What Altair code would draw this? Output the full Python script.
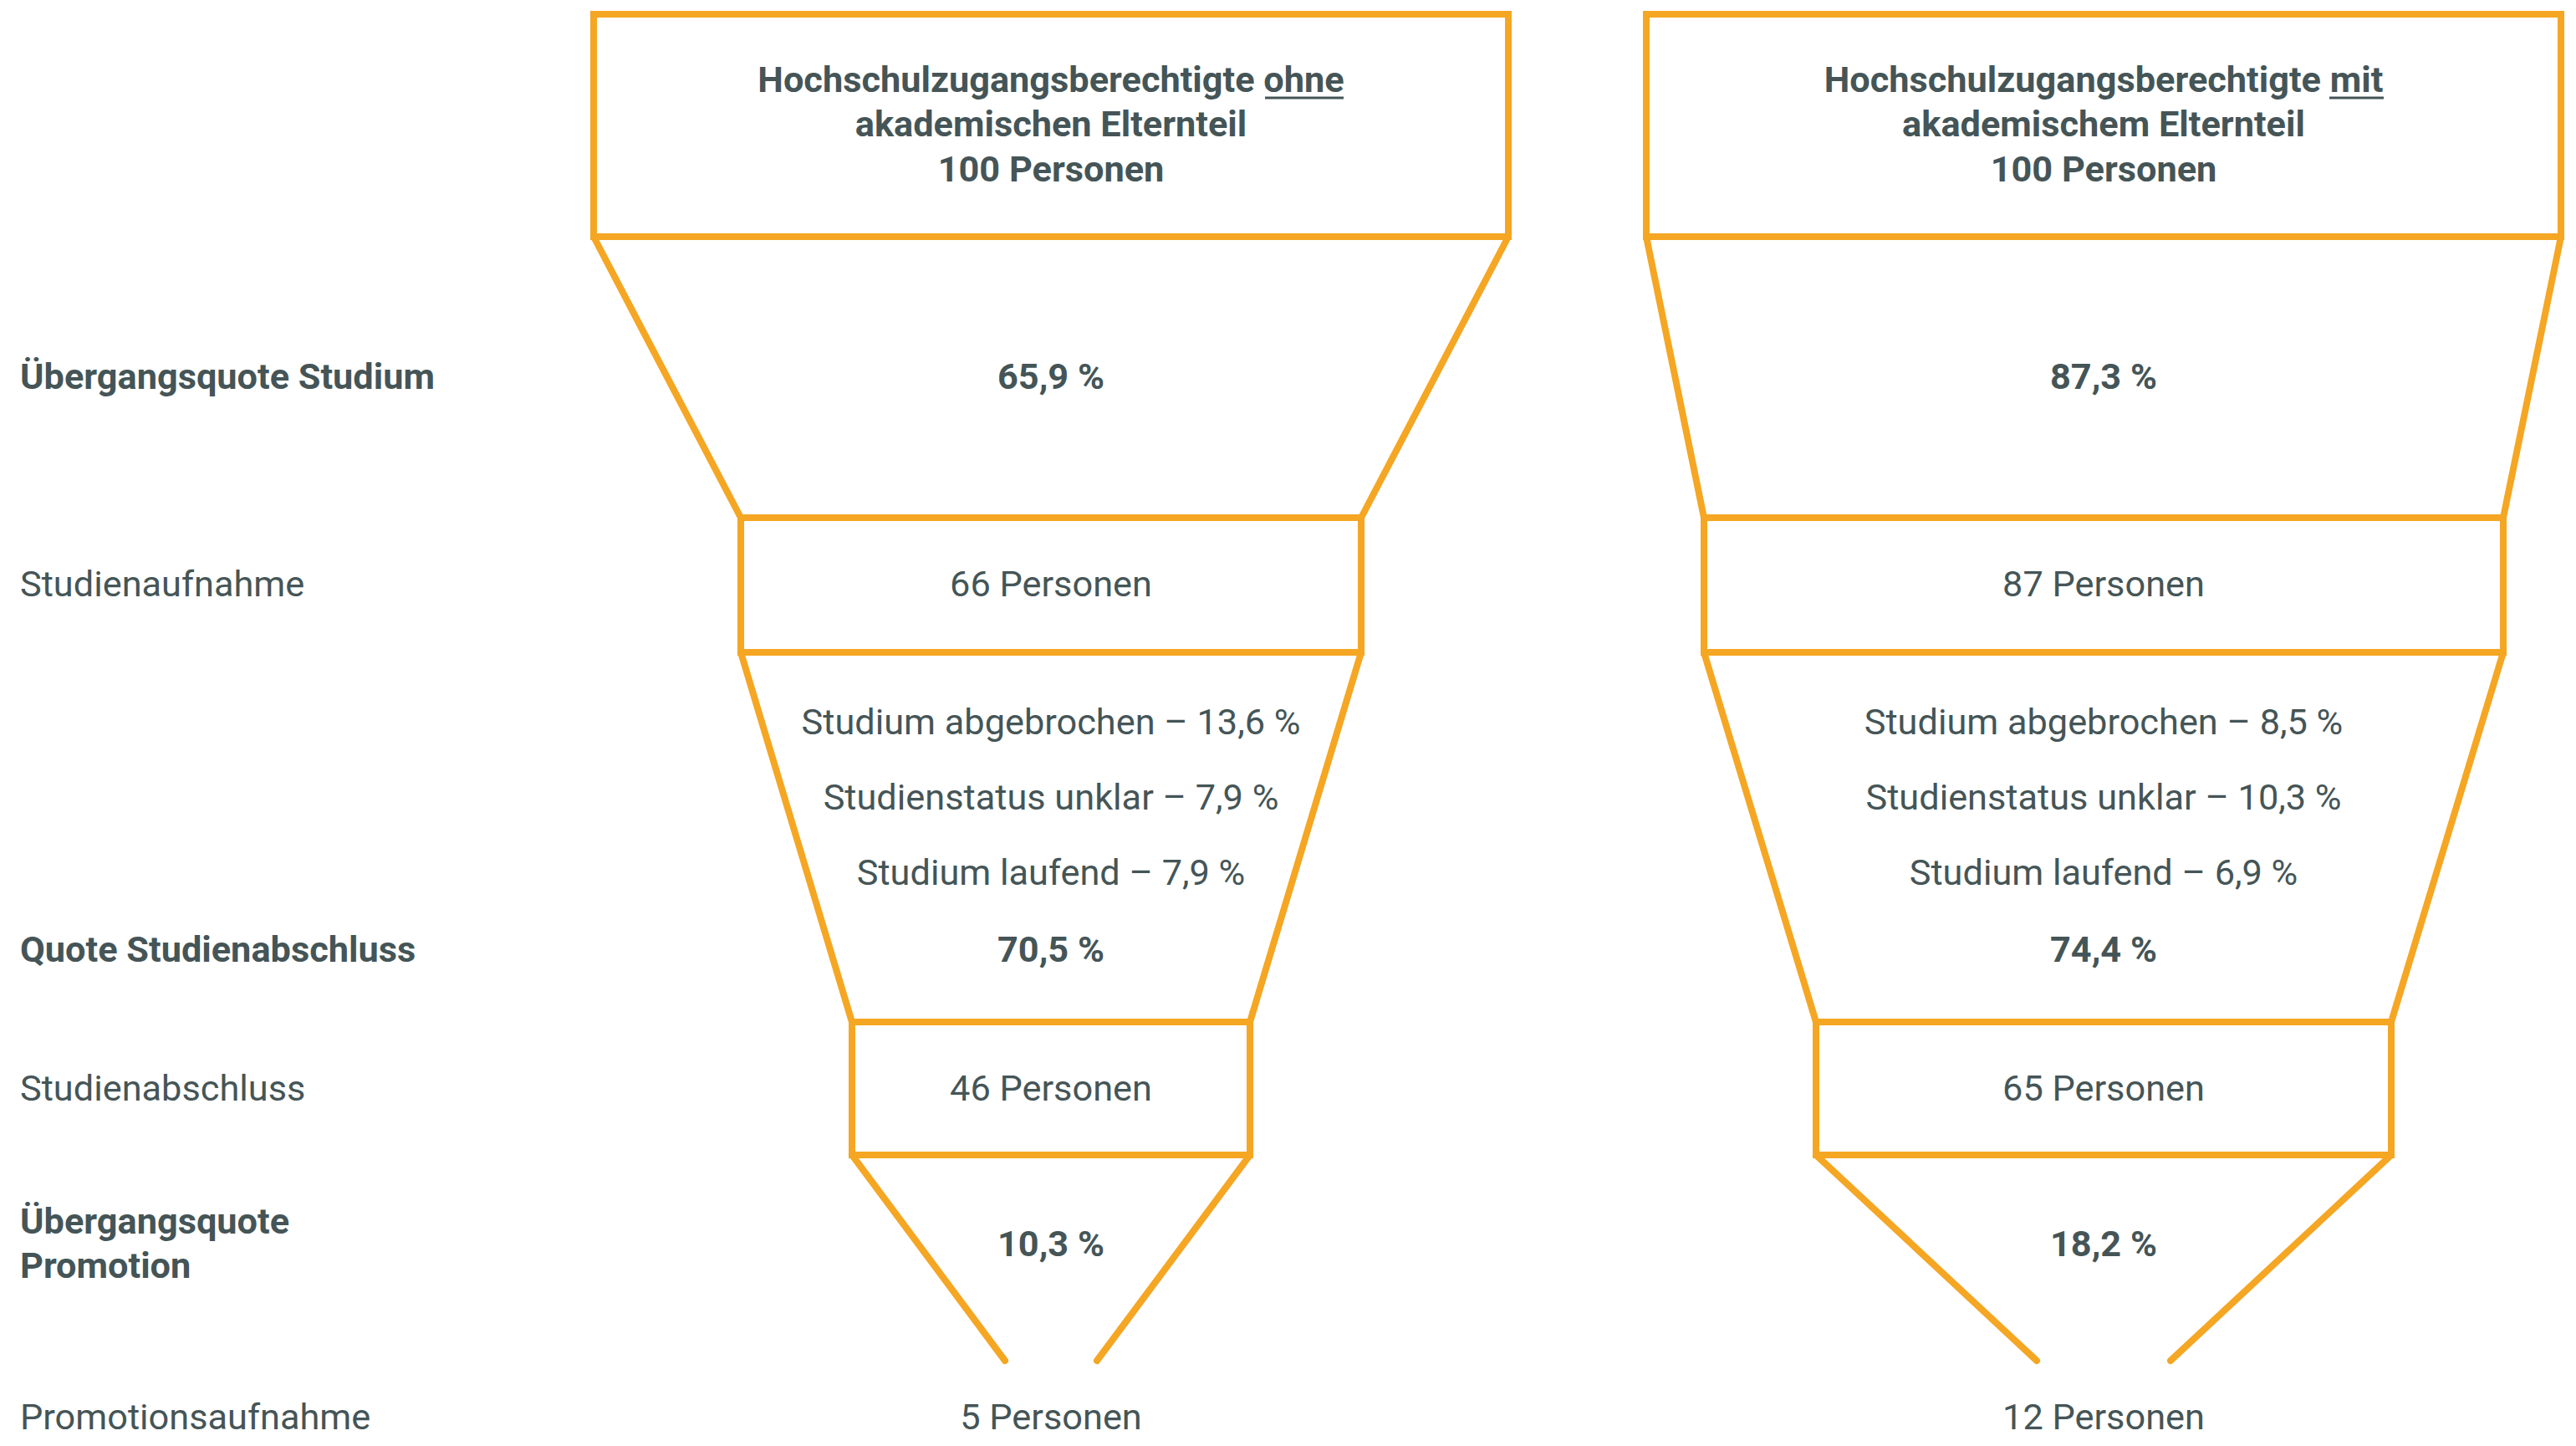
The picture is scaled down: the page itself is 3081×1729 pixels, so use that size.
import altair as alt
import pandas as pd

# ---------------- data ----------------
groups = ["ohne", "mit"]
gruppe_titel = [
    ["Hochschulzugangsberechtigte ohne", "akademischen Elternteil"],
    ["Hochschulzugangsberechtigte mit", "akademischem Elternteil"],
]
gesamt = [100, 100]
uebergangsquote_studium = [65.9, 87.3]
studienaufnahme = [66, 87]
studium_abgebrochen = [13.6, 8.5]
studienstatus_unklar = [7.9, 10.3]
studium_laufend = [7.9, 6.9]
quote_studienabschluss = [70.5, 74.4]
studienabschluss = [46, 65]
uebergangsquote_promotion = [10.3, 18.2]
promotionsaufnahme = [5, 12]

row_labels = ["Übergangsquote Studium", "Studienaufnahme", "Quote Studienabschluss",
              "Studienabschluss", "Übergangsquote", "Promotion", "Promotionsaufnahme"]
row_bold = [True, False, True, False, True, True, False]

# ---------------- layout (pixel space) ----------------
W, H = 3065, 1713
ORANGE = "#F5A623"
TEXT = "#455557"
FONT = "Roboto"
FS = 43.3

centers = [1257, 2516]
half_box1 = [547, 547]
half_box2 = [371, 478]
half_box3 = [238, 344]
half_tip = [55, 80]
y_box1 = (17, 283)
y_box2 = (619, 780)
y_box3 = (1222, 1381)
y_tip = 1627

row_label_y = [465, 713, 1150, 1316, 1475, 1528, 1709]
title_y = [110, 163, 217]
sub_y = [878, 968, 1058]
underline = [(1513, 1607), (2786, 2851)]
underline_y = 117


def pct(v):
    return f"{v:.1f}".replace(".", ",") + " %"


rects, segs, texts = [], [], []
for i, g in enumerate(groups):
    c = centers[i]
    boxes = [(half_box1[i], y_box1), (half_box2[i], y_box2), (half_box3[i], y_box3)]
    for hw, (ya, yb) in boxes:
        rects.append(dict(x=c - hw, x2=c + hw, y=ya, y2=yb))
    # connecting funnel sides
    conns = [(half_box1[i], y_box1[1], half_box2[i], y_box2[0]),
             (half_box2[i], y_box2[1], half_box3[i], y_box3[0]),
             (half_box3[i], y_box3[1], half_tip[i], y_tip)]
    for h1, ya, h2, yb in conns:
        segs.append(dict(x=c - h1, y=ya, x2=c - h2, y2=yb, kind="f"))
        segs.append(dict(x=c + h1, y=ya, x2=c + h2, y2=yb, kind="f"))
    segs.append(dict(x=underline[i][0], x2=underline[i][1], y=underline_y, y2=underline_y, kind="u"))

    t = [
        (gruppe_titel[i][0], title_y[0], True),
        (gruppe_titel[i][1], title_y[1], True),
        (f"{gesamt[i]} Personen", title_y[2], True),
        (pct(uebergangsquote_studium[i]), row_label_y[0], True),
        (f"{studienaufnahme[i]} Personen", row_label_y[1], False),
        (f"Studium abgebrochen – {pct(studium_abgebrochen[i])}", sub_y[0], False),
        (f"Studienstatus unklar – {pct(studienstatus_unklar[i])}", sub_y[1], False),
        (f"Studium laufend – {pct(studium_laufend[i])}", sub_y[2], False),
        (pct(quote_studienabschluss[i]), row_label_y[2], True),
        (f"{studienabschluss[i]} Personen", row_label_y[3], False),
        (pct(uebergangsquote_promotion[i]), (row_label_y[4] + row_label_y[5]) / 2, True),
        (f"{promotionsaufnahme[i]} Personen", row_label_y[6], False),
    ]
    for txt, y, b in t:
        texts.append(dict(x=c, y=y, text=txt, bold=b, align="center"))

for lab, y, b in zip(row_labels, row_label_y, row_bold):
    texts.append(dict(x=24, y=y, text=lab, bold=b, align="left"))

rect_df = pd.DataFrame(rects)
seg_df = pd.DataFrame(segs)
text_df = pd.DataFrame(texts)

xs = alt.Scale(domain=[8, 8 + W])
ys = alt.Scale(domain=[8, 8 + H], reverse=True)

box_layer = alt.Chart(rect_df).mark_rect(
    filled=False, stroke=ORANGE, strokeWidth=8, strokeJoin="miter"
).encode(
    x=alt.X("x:Q", scale=xs, axis=None), x2="x2:Q",
    y=alt.Y("y:Q", scale=ys, axis=None), y2="y2:Q",
)

side_layer = alt.Chart(seg_df).transform_filter("datum.kind == 'f'").mark_rule(
    stroke=ORANGE, strokeWidth=8, strokeCap="round"
).encode(
    x=alt.X("x:Q", scale=xs, axis=None), x2="x2:Q",
    y=alt.Y("y:Q", scale=ys, axis=None), y2="y2:Q",
)

under_layer = alt.Chart(seg_df).transform_filter("datum.kind == 'u'").mark_rule(
    stroke=TEXT, strokeWidth=3
).encode(
    x=alt.X("x:Q", scale=xs, axis=None), x2="x2:Q",
    y=alt.Y("y:Q", scale=ys, axis=None), y2="y2:Q",
)


def text_layer(bold, align):
    return alt.Chart(text_df).transform_filter(
        f"datum.bold == {'true' if bold else 'false'} && datum.align == '{align}'"
    ).mark_text(
        font=FONT, fontSize=FS, fontWeight="bold" if bold else "normal",
        color=TEXT, align=align, baseline="alphabetic"
    ).encode(
        x=alt.X("x:Q", scale=xs, axis=None),
        y=alt.Y("y:Q", scale=ys, axis=None),
        text="text:N",
    )


chart = alt.layer(
    box_layer, side_layer, under_layer,
    text_layer(True, "center"), text_layer(False, "center"),
    text_layer(True, "left"), text_layer(False, "left"),
).properties(
    width=W, height=H, padding=0,
    autosize=alt.AutoSizeParams(type="none"),
).configure_view(stroke=None)

chart.save("out.html", embed_options={"renderer": "svg", "actions": False})
